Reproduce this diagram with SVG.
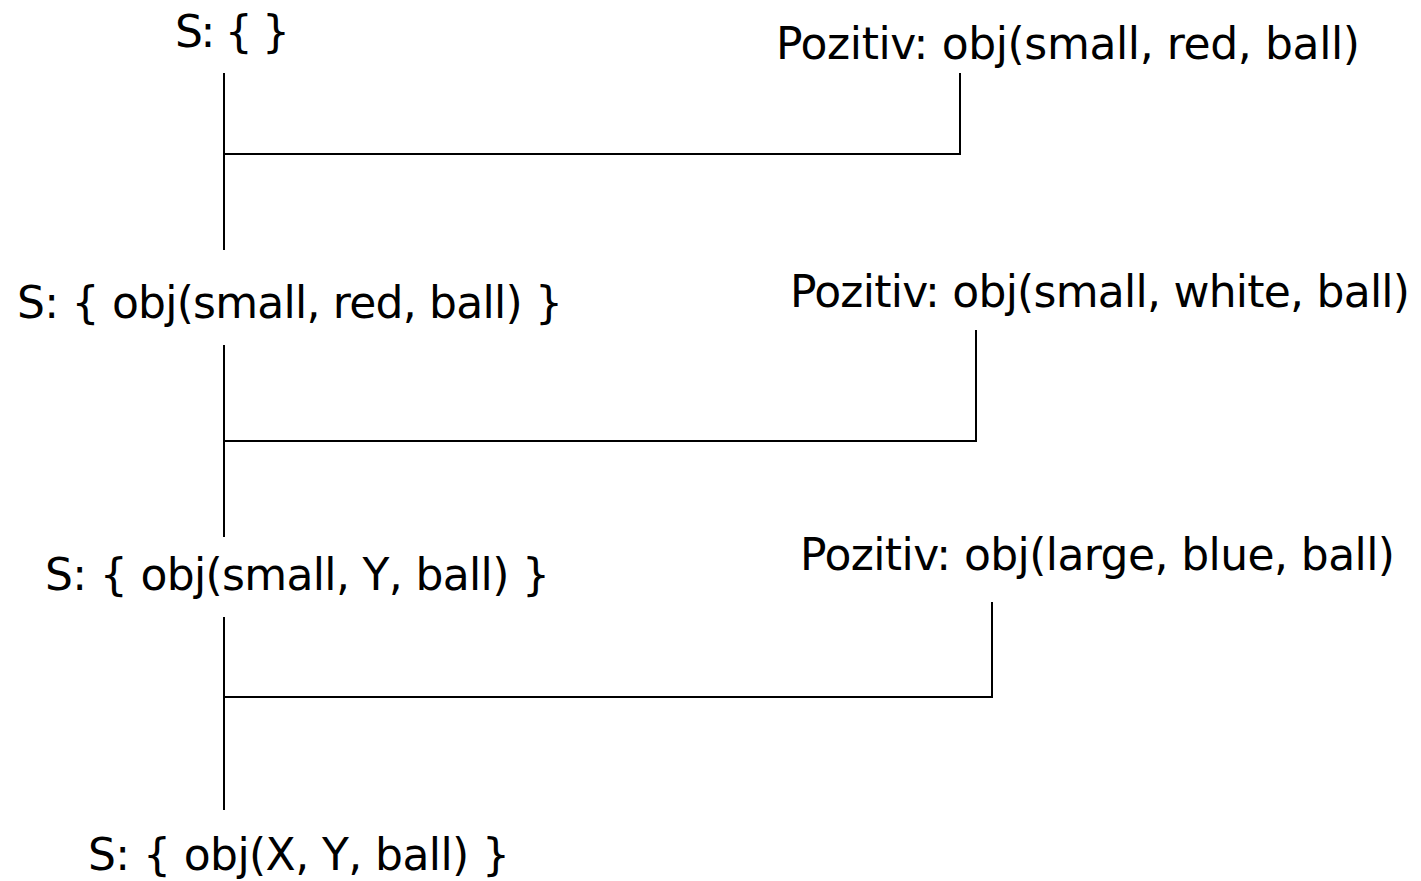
<svg xmlns="http://www.w3.org/2000/svg" width="1421" height="881" viewBox="0 0 1421 881">
<style>
text{font-family:"DejaVu Sans","Noto Sans",sans-serif;font-size:44px;fill:#000}
.c{fill:none;stroke:#000;stroke-width:2}
</style>
<rect width="1421" height="881" fill="#fff"/>
<g id="connectors">
<path class="c" d="M224 73V250"/>
<path class="c" d="M224 345V537"/>
<path class="c" d="M224 617V810"/>
<path class="c" d="M224 154H960V73"/>
<path class="c" d="M224 441H976V330"/>
<path class="c" d="M224 697H992V602"/>
</g>
<g id="s0"><text x="175" y="47" textLength="115">S: { }</text></g>
<g id="p1"><text x="776" y="59" textLength="584">Pozitiv: obj(small, red, ball)</text></g>
<g id="s1"><text x="17" y="318" textLength="546">S: { obj(small, red, ball) }</text></g>
<g id="p2"><text x="790" y="307" textLength="620">Pozitiv: obj(small, white, ball)</text></g>
<g id="s2"><text x="45" y="590" textLength="505">S: { obj(small, Y, ball) }</text></g>
<g id="p3"><text x="800" y="570" textLength="595">Pozitiv: obj(large, blue, ball)</text></g>
<g id="s3"><text x="88" y="870" textLength="422">S: { obj(X, Y, ball) }</text></g>
</svg>
